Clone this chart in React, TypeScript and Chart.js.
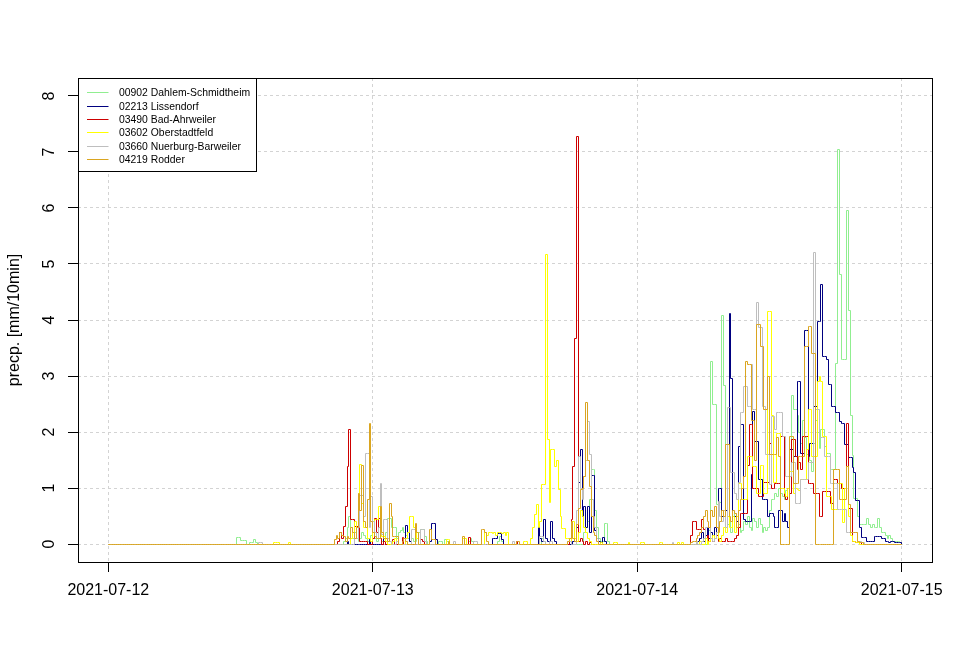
import React, { useEffect, useRef } from "react";
import { Chart, registerables } from "chart.js";

Chart.register(...registerables);

// ---- axis / tick data ----
const STEP_HOURS = 10 / 60; // 10-minute steps
const N_STEPS = 432; // 2021-07-12 00:00 .. 2021-07-15 00:00
const xTickHours = [0, 24, 48, 72];
const xTickLabels = ["2021-07-12", "2021-07-13", "2021-07-14", "2021-07-15"];
const yTickValues = [0, 1, 2, 3, 4, 5, 6, 7, 8];
const yTitle = "precp. [mm/10min]";

const stationNames = [
  "00902 Dahlem-Schmidtheim",
  "02213 Lissendorf",
  "03490 Bad-Ahrweiler",
  "03602 Oberstadtfeld",
  "03660 Nuerburg-Barweiler",
  "04219 Rodder",
];
const stationColors = ["#90EE90", "#000080", "#CD0000", "#FFFF00", "#BEBEBE", "#DAA520"];

// ---- series values: [start step index, consecutive 10-min values] ----
const dahlemSegs: [number, number[]][] = [
  [70, [0.12, 0.12, 0.07, 0.07, 0.07, 0, 0, 0.03, 0.03, 0.08, 0.02]],
  [128, [0.05, 0.1, 0.3, 0.49, 0.3, 0.1, 0.2, 0.1, 0.05, 0.1, 0.2, 0.15]],
  [140, [0.1, 0.05, 0.1, 0.15, 0.2, 0.1, 0.05, 0.1, 0.1, 0.05, 0.1, 0.2, 0.45, 0.45, 0.29, 0.29, 0.29, 0.1, 0.2, 0.25]],
  [160, [0.3, 0.2, 0.15, 0.1, 0.05, 0.1, 0.05, 0.05, 0.1, 0.2, 0.26, 0.26, 0.14, 0.05]],
  [180, [0.05, 0.05, 0, 0.08, 0.05]],
  [196, [0.05, 0.1, 0.05]],
  [212, [0.05, 0.14, 0.05]],
  [234, [0.05, 0, 0.1, 0.05]],
  [252, [0.05, 0, 0, 0, 0, 0, 0, 0.2, 0.3, 0.4, 0.8, 1.33, 1.33, 0.6, 0.3, 0.1, 0.05, 0.05, 0.36, 0.36, 0.05]],
  [326, [0.1, 0.25, 3.26, 2.49, 2.49, 0.7, 0.7, 0.75, 4.08, 2.83]],
  [336, [0.6, 0.35, 0.4, 0.2, 0.5, 0.55, 0.3, 0.35, 0.2, 0.25, 0.4, 0.35, 0.5, 0.3, 0.25, 0.45, 0.4, 0.3, 0.45, 0.35, 0.2, 0.3, 0.25, 0.3]],
  [360, [0.6, 0.8, 0.8, 0.9, 0.85, 1.0, 0.9, 0.85, 0.8, 0.95, 1.0, 0.9]],
  [372, [2.66, 2.4, 2.4, 2.3, 2.0, 1.8, 2.2, 1.9, 1.6, 1.7, 1.5, 1.3, 1.8, 2.2, 2.0, 1.7, 2.04, 2.04, 1.74, 1.62, 1.62, 1.33, 1.33, 1.33]],
  [396, [3.23, 7.05, 4.81, 3.29, 3.29, 3.29, 5.95, 4.17, 2.3, 1.58, 0.82, 0.82, 0.5, 0.35, 0.35, 0.35, 0.35, 0.45, 0.35, 0.3, 0.35, 0.3, 0.3, 0.45, 0.3, 0.2, 0.2, 0.15, 0.1, 0.15, 0.1, 0.05, 0.05, 0.05, 0.05, 0.03, 0]],
];

const lissendorfSegs: [number, number[]][] = [
  [130, [0.05]],
  [142, [0.08]],
  [150, [0.1]],
  [160, [0.05, 0.1, 0.33, 0.2, 0.05]],
  [175, [0.05, 0.37, 0.37, 0.08]],
  [209, [0.1, 0.1, 0.1, 0.19, 0.19, 0.08]],
  [234, [0.375, 0.1, 0.05, 0.43, 0.1, 0.05, 0.05, 0.4, 0.1, 0.05]],
  [253, [0.05, 0.1, 0.3, 1.1, 1.68, 0.5, 0.67, 0.3, 0.67, 0.2, 1.23, 1.23, 0.25, 0.1, 0.05, 0, 0.12, 0.05]],
  [321, [0.05, 0.1, 0.2, 0.05, 0.15, 0.3, 0.1, 0.2, 0.15, 0.3, 0.2]],
  [332, [1.0, 1.0, 0.5, 0.5, 0.6, 0.5, 4.11, 2.96, 0.5, 0.5, 0.4, 1.74, 2.13, 2.13, 0.43, 0.4, 0.4, 0.4, 1.24, 2.37, 1.83, 1.83, 1.15, 1.15, 0.8, 0.8, 0.8, 0.5]],
  [360, [0.55, 0.55, 0.5, 0.3, 0.3, 0.6, 0.6, 0.4, 0.55, 0.4,
    0.3, 1.68, 1.68, 1.56, 1.56, 2.9, 2.9, 1.62, 1.62, 3.82,
    3.82, 1.56, 1.8, 1.8, 2.46, 2.46, 3.98, 3.98, 4.63, 3.35,
    3.35, 3.29, 2.84, 2.84, 2.46, 2.46, 2.34, 2.34, 2.19, 2.16,
    2.16, 1.77, 1.77, 1.54, 1.54, 1.36, 1.27, 0.77, 0.77, 0.29,
    0.11, 0.11, 0.11, 0.05, 0.05, 0.05, 0.05, 0.14, 0.14, 0.14,
    0.14, 0.1, 0.1, 0.05, 0.05, 0.03, 0.05, 0.05, 0.03, 0.03,
    0.03, 0.02, 0]],
];

const ahrweilerSegs: [number, number[]][] = [
  [125, [0.05, 0.2, 0.1, 0.31, 0.67, 1.39, 2.04, 0.43, 0.43, 0.31, 0.31, 0.31, 0.05, 0.05, 0.05, 0.05]],
  [144, [0.1, 0.45, 0.2, 0.45, 0.1, 0, 0.05]],
  [155, [0.08]],
  [160, [0.11]],
  [170, [0.08, 0.05]],
  [196, [0.11]],
  [222, [0.05]],
  [251, [0.05, 0.43, 1.39, 3.67, 7.27, 0.05, 0.1, 0.05, 0, 0.05, 0, 0.03]],
  [317, [0.15, 0.4, 0.4, 0.26, 0.26, 0.26, 0.43, 0.26, 0.1, 0.15,
    0.05, 0.1, 0.05, 0.1, 0.15, 0.05, 0.1, 0.05, 0.05, 0.1,
    0.05, 0.05, 0.05, 0.05, 0.1, 0.15, 0.3, 0.55, 0.55, 0.55,
    0.55, 1.4, 2.13, 2.13, 1.0, 1.0, 1.0, 0.85, 0.85, 0.85,
    1.1, 1.1, 1.1]],
  [360, [1.8, 1.0, 1.0, 1.09, 1.09, 1.09, 1.92, 1.92, 0.85, 0.8,
    1.0, 0.9, 1.86, 1.86, 1.56, 1.33, 1.45, 1.33, 1.92, 1.92,
    1.92, 1.09, 1.09, 1.09, 0.9, 0.9, 0.9, 0.49, 0.49, 0.94,
    0.94, 0.94, 0.94, 0.73, 0.73, 1.15, 1.15, 1.09, 1.09, 1.0,
    1.0, 1.0, 2.16, 0.64, 0.64, 0.05, 0.05, 0.03, 0.02, 0.02]],
];

const oberstadtfeldSegs: [number, number[]][] = [
  [90, [0.03, 0.03, 0.03]],
  [98, [0.03]],
  [132, [0.1, 0.2, 0.4, 0.3, 0.9, 1.42, 0.73, 0.3, 0.3, 0.1, 0.1, 0.05, 0.2, 0.43, 0.43, 0.67, 0.2, 0.14, 0.14, 0.05]],
  [155, [0.05, 0.1, 0.05]],
  [162, [0.1, 0.2, 0.49, 0.49, 0.3, 0.3, 0.1]],
  [184, [0.08, 0.08]],
  [193, [0.1, 0.1]],
  [205, [0.2, 0.15, 0.2, 0.2, 0.18, 0.2, 0.15, 0.2, 0.2, 0.18, 0.2, 0.15, 0.2]],
  [226, [0.05, 0.05]],
  [230, [0.1, 0.3, 0.52, 0.7, 0.3, 0.4, 1.06, 1.06, 5.17, 1.86,
    0.75, 1.68, 1.68, 1.38, 1.5, 0.98, 0.5, 0.27, 0.27, 0.1,
    0.1, 0.05, 0.3, 0.4, 0.1, 0.05, 0.2, 0.6, 0.5, 0.3,
    0.2, 0.1, 0.05]],
  [268, [0.03]],
  [275, [0.03, 0.03]],
  [283, [0.03]],
  [290, [0.03, 0.03]],
  [300, [0.03, 0.03]],
  [310, [0.03, 0, 0.03]],
  [320, [0.05, 0, 0.05, 0, 0, 0.1, 0, 0.05, 0.1, 0.15,
    0.1, 0.2, 0.1, 0.05, 0.15, 0.3, 0.2, 0.5, 0.3, 0.3,
    0.5, 0.2, 0.5, 1.09, 1.09, 0.8, 0.8, 0.8, 1.56, 1.56,
    1.56, 1.39, 1.39, 0.9, 0.9, 1.4, 1.4, 0.9, 0.9, 4.16,
    4.16, 2.3, 1.1, 1.1, 1.98, 1.98, 1.0, 1.0, 0.9, 0.85]],
  [370, [1.0, 1.3, 1.3, 0.9, 1.0, 0.97, 0.95, 1.15, 1.15, 1.15,
    1.68, 2.4, 2.4, 1.56, 1.56, 1.56, 2.9, 3.0, 2.9, 1.92,
    1.92, 0.85, 0.85, 0.85, 0.61, 0.61, 0.61, 1.09, 1.09, 1.09,
    0.38, 1.0, 1.38, 0.5, 0.15, 0.05, 0.05, 0.03, 0.02]],
];

const nuerburgSegs: [number, number[]][] = [
  [82, [0.03, 0.03]],
  [134, [0.1, 0.1, 0.3, 0.86, 0.86, 0.5, 1.62, 1.62, 0.3, 0.85, 0.4, 0.2, 0.1, 0.3, 1.08, 0.17, 0.43, 0.43, 0.1, 0.05]],
  [157, [0.05]],
  [165, [0.26, 0.26]],
  [170, [0.26, 0.26, 0.05]],
  [188, [0.05]],
  [199, [0.05, 0.05]],
  [220, [0.05]],
  [235, [0.14, 0.14, 0.05, 0, 0, 0.05, 0.05]],
  [250, [0.05, 0.05, 0, 0, 0, 0.6, 1.56, 1.0, 0.8, 1.2, 1.5, 2.19, 1.6, 0.8, 0.5, 0.3, 0.1]],
  [307, [0.02]],
  [320, [0.05]],
  [323, [0.05, 0.1, 0.3, 0.3, 0.3, 0.1, 0.05, 0.1, 0.2, 0.76, 0.5, 0.4, 0.6, 0.3]],
  [337, [2.43, 2.43, 1.27, 1.27, 0.9, 0.8, 1.1, 2.34, 2.34, 2.82,
    2.82, 2.46, 2.46, 3.2, 2.4, 2.4, 4.32, 3.86, 3.86, 2.46,
    2.46, 1.6, 1.6, 1.06]],
  [361, [2.28, 2.28, 2.04, 2.34, 2.34, 2.34, 1.92, 1.92, 1.2, 1.2,
    1.2, 1.45, 1.45, 0.73, 0.73, 0.73, 1.15, 1.15, 1.15, 1.15,
    1.45, 1.45, 1.45, 5.2, 2.4, 2.4, 1.9, 1.9, 1.9, 1.56,
    1.56, 1.56, 1.09, 1.09, 1.09, 1.09, 0.61, 0.61, 0.61, 0.61,
    0.61, 0.2, 0.2, 0.2, 0.2, 0.2, 0.2, 0.05, 0.05, 0.02, 0.02]],
];

const rodderSegs: [number, number[]][] = [
  [123, [0.08, 0.15, 0.1, 0.2, 0.15, 0.14, 0.05, 0.14, 0.1, 0.3,
    0.2, 0.1, 0.3, 0.9, 0.6, 1.4, 0.4, 0.3, 0.8, 2.16,
    0.4, 0.2, 0.14, 0.1, 0.1, 0.67, 0.2, 0.1, 0.1, 0.05,
    0.73, 0.5, 0.14, 0.14, 0.14]],
  [160, [0.05, 0.1, 0.05]],
  [167, [0.37, 0.2]],
  [175, [0.26, 0.08, 0.08]],
  [185, [0.05]],
  [193, [0.14]],
  [203, [0.26, 0.26, 0.2, 0.05]],
  [222, [0.05, 0.05]],
  [250, [0.05, 0.1, 0.4, 0.1, 0.05, 0.35, 0.64, 0.97, 1.0, 1.2, 2.52, 1.5, 1.03, 0.5, 0.2, 0.15, 0.05]],
  [316, [0, 0.02, 0.05, 0.05, 0.1, 0.15, 0.2, 0.3, 0.5, 0.6,
    0.4, 0.3, 0.6, 0.5, 0.67, 0.3, 0.2, 0.4, 0.6, 0.5,
    1.77, 1.77, 0.5, 0.4, 0.6, 0.55, 0.3, 0.6, 0.8, 1.0, 1.2]],
  [347, [3.26, 3.2, 3.2, 2.2, 2.2, 1.5, 3.92, 3.92, 3.53, 3.53,
    2.4, 2.4, 3.0, 1.6, 1.6, 1.6, 1.6, 1.9, 1.56, 0,
    0, 0, 0, 0, 1.92, 1.92, 1.09, 1.09, 1.09, 1.56,
    1.56, 1.56, 3.53, 3.53, 3.89, 3.89, 3.41, 3.41, 0, 0,
    0, 0, 0, 0, 0, 0, 0, 0, 1.33, 1.33,
    1.33, 0.79, 0.79, 0.79, 0.79, 1.39, 0.7, 0.2, 0.2, 0.2,
    0.2, 0.05, 0.02, 0.02]],
];

const stationSegs = [dahlemSegs, lissendorfSegs, ahrweilerSegs, oberstadtfeldSegs, nuerburgSegs, rodderSegs];

function buildSeries(segs: [number, number[]][]) {
  const vals: number[] = new Array(N_STEPS + 1).fill(0);
  for (const [start, arr] of segs) {
    arr.forEach((v, k) => {
      if (start + k <= N_STEPS) vals[start + k] = v;
    });
  }
  return vals.map((v, i) => ({ x: i * STEP_HOURS, y: v }));
}

const FONT = "'Liberation Sans', Arial, Helvetica, sans-serif";

// snap the library-computed point pixels to pixel centres so the 1px step lines stay crisp
const snapPlugin = {
  id: "snapPixels",
  afterDatasetsUpdate(chart: any) {
    chart.data.datasets.forEach((_: any, i: number) => {
      const meta = chart.getDatasetMeta(i);
      meta.data.forEach((pt: any) => {
        pt.x = Math.round(pt.x - 0.5) + 0.5;
        pt.y = Math.round(pt.y - 0.5) + 0.5;
      });
    });
  },
};

const rPlotPlugin = {
  id: "rPlot",
  beforeDraw(chart: any) {
    const { ctx } = chart;
    ctx.save();
    ctx.fillStyle = "#FFFFFF";
    ctx.fillRect(0, 0, chart.width, chart.height);
    ctx.restore();
  },
  afterDraw(chart: any) {
    const { ctx, chartArea: a } = chart;
    ctx.save();
    ctx.setLineDash([]);
    ctx.strokeStyle = "#000000";
    ctx.lineWidth = 1;
    const L = Math.round(a.left) + 0.5;
    const T = Math.round(a.top) + 0.5;
    const W = Math.round(a.right - a.left);
    const H = Math.round(a.bottom - a.top);
    ctx.strokeRect(L, T, W, H);

    // legend (top-left, inside plot)
    const lw = 178;
    const lh = 93;
    ctx.fillStyle = "#FFFFFF";
    ctx.fillRect(L, T, lw, lh);
    ctx.strokeRect(L, T, lw, lh);
    ctx.font = `10.4px ${FONT}`;
    ctx.textAlign = "left";
    ctx.textBaseline = "middle";
    stationNames.forEach((name, i) => {
      const y = Math.round(T + 13.8 + i * 13.35) + 0.5;
      ctx.strokeStyle = stationColors[i];
      ctx.beginPath();
      ctx.moveTo(L + 8.5, y);
      ctx.lineTo(L + 30, y);
      ctx.stroke();
      ctx.fillStyle = "#000000";
      ctx.fillText(name, L + 40.5, y + 0.5);
    });

    // y-axis title
    ctx.translate(15, (a.top + a.bottom) / 2);
    ctx.rotate(-Math.PI / 2);
    ctx.font = `16px ${FONT}`;
    ctx.textAlign = "center";
    ctx.textBaseline = "middle";
    ctx.fillStyle = "#000000";
    ctx.fillText(yTitle, 0, 0);
    ctx.restore();
  },
};

export default function App() {
  const canvasRef = useRef<HTMLCanvasElement | null>(null);

  useEffect(() => {
    if (!canvasRef.current) return;
    const datasets = stationSegs.map((segs, i) => ({
      label: stationNames[i],
      data: buildSeries(segs),
      borderColor: stationColors[i],
      backgroundColor: stationColors[i],
      borderWidth: 1,
      pointRadius: 0,
      pointHoverRadius: 0,
      stepped: true as any,
      fill: false,
      tension: 0,
      order: stationSegs.length - 1 - i,
    }));

    const gridOpts = {
      color: "#D3D3D3",
      lineWidth: 1,
      drawTicks: true,
      tickLength: 10,
      tickColor: "#000000",
      tickWidth: 1,
      tickBorderDash: [],
    };

    const chart = new Chart(canvasRef.current, {
      type: "line",
      data: { datasets },
      options: {
        animation: false,
        responsive: false,
        devicePixelRatio: 1,
        events: [],
        layout: { padding: { left: 0, right: 41, top: 78, bottom: 0 } },
        plugins: {
          legend: { display: false },
          tooltip: { enabled: false },
          title: { display: false },
        },
        scales: {
          x: {
            type: "linear",
            min: -2.75,
            max: 74.75,
            afterBuildTicks: (scale: any) => {
              scale.ticks = xTickHours.map((v) => ({ value: v }));
            },
            afterFit: (scale: any) => {
              scale.height = 98;
            },
            grid: gridOpts,
            border: { display: false, dash: [3, 3] },
            ticks: {
              autoSkip: false,
              maxRotation: 0,
              minRotation: 0,
              padding: 9.4,
              color: "#000000",
              font: { family: FONT, size: 16 },
              callback: (value: any) => {
                const k = xTickHours.indexOf(Number(value));
                return k >= 0 ? xTickLabels[k] : "";
              },
            },
          },
          y: {
            type: "linear",
            min: -0.32,
            max: 8.32,
            afterBuildTicks: (scale: any) => {
              scale.ticks = yTickValues.map((v) => ({ value: v }));
            },
            afterFit: (scale: any) => {
              scale.width = 78;
            },
            grid: gridOpts,
            border: { display: false, dash: [3, 3] },
            ticks: {
              autoSkip: false,
              minRotation: 90,
              maxRotation: 90,
              crossAlign: "center",
              padding: 13.5,
              color: "#000000",
              font: { family: FONT, size: 16 },
              callback: (value: any) => String(value),
            },
          },
        },
      } as any,
      plugins: [snapPlugin, rPlotPlugin],
    });
    return () => chart.destroy();
  }, []);

  return (
    <div style={{ position: "absolute", left: 0, top: 0, width: 973, height: 660, background: "#fff" }}>
      <canvas ref={canvasRef} width={973} height={660} style={{ display: "block" }} />
    </div>
  );
}
